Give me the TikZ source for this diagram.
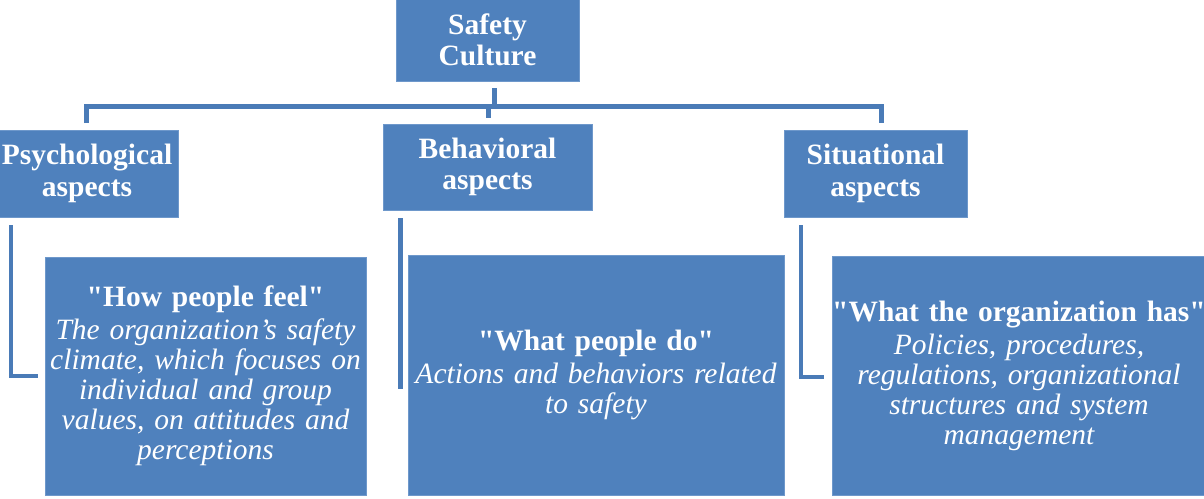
\documentclass[tikz,border=0pt]{standalone}
\usepackage{fontspec}
\setmainfont{Liberation Serif}[Ligatures=TeXOff]
\definecolor{boxblue}{HTML}{4F81BD}
\definecolor{boxedge}{HTML}{6E98CB}
\definecolor{linkblue}{HTML}{4A7BB7}
\begin{document}
\begin{tikzpicture}[x=1pt,y=-1pt,
  box/.style={fill=boxblue,draw=boxedge,line width=0.8pt,inner sep=0pt,text=white},
  headbox/.style={box,align=center,font=\fontsize{29.5}{31.5}\selectfont\bfseries},
  detailbox/.style={box,font=\fontsize{29.5}{30}\selectfont},
  link/.style={draw=linkblue,line width=5pt,line join=miter},
  elbow/.style={draw=linkblue,line width=4.5pt,line join=miter}
]
\useasboundingbox (0,0) rectangle (1204,498);

% top node
\node[headbox,minimum width=183pt,minimum height=83pt] (sc) at (487.5,40) {Safety\\Culture};

% second level
\node[headbox,minimum width=182pt,minimum height=87pt] (psy) at (87,173.5) {Psychological\\aspects};
\node[headbox,minimum width=209pt,minimum height=86pt] (beh) at (487.5,167) {Behavioral\\aspects};
\node[headbox,minimum width=183pt,minimum height=87pt] (sit) at (875.5,173.5) {Situational\\aspects};

% detail boxes
\node[detailbox,minimum width=321pt,minimum height=238pt,text width=315pt,align=center] (psyd) at (205.5,376)
  {\makebox[\linewidth]{\bfseries "How people feel"}\\[3pt]\itshape The organization’s safety\\climate, which focuses on\\individual and group\\values, on attitudes and\\perceptions};
\node[detailbox,minimum width=376pt,minimum height=240pt,text width=370pt,align=center] (behd) at (596,375)
  {\makebox[\linewidth]{\bfseries "What people do"}\\[3pt]\itshape Actions and behaviors related\\to safety};
\node[detailbox,minimum width=374pt,minimum height=239pt,text width=372pt,align=center] (sitd) at (1019,375.5)
  {\makebox[\linewidth]{\bfseries "What the organization has"}\\[3pt]\itshape Policies, procedures,\\regulations, organizational\\structures and system\\management};

% connector coordinates
\coordinate (scTop) at (494,88);
\coordinate (scBar) at (494,106.5);
\coordinate (barL) at (86.5,106.5);
\coordinate (barR) at (881.5,106.5);
\coordinate (barM) at (488,106.5);
\coordinate (psyStub) at (86.5,123);
\coordinate (behStub) at (488,118);
\coordinate (sitStub) at (881.5,123);

\coordinate (psyA) at (11,225);
\coordinate (psyB) at (11,376);
\coordinate (psyC) at (38,376);
\coordinate (behA) at (400.5,218);
\coordinate (behB) at (400.5,389);
\coordinate (sitA) at (801,225);
\coordinate (sitB) at (801,377);
\coordinate (sitC) at (824,377);

% tree connectors
\draw[link] (scTop) -- (scBar);
\draw[link] (psyStub) -- (barL) -- (barR) -- (sitStub);
\draw[link] (barM) -- (behStub);

% elbow connectors
\draw[elbow] (psyA) -- (psyB) -- (psyC);
\draw[elbow] (behA) -- (behB);
\draw[elbow] (sitA) -- (sitB) -- (sitC);
\end{tikzpicture}
\end{document}
